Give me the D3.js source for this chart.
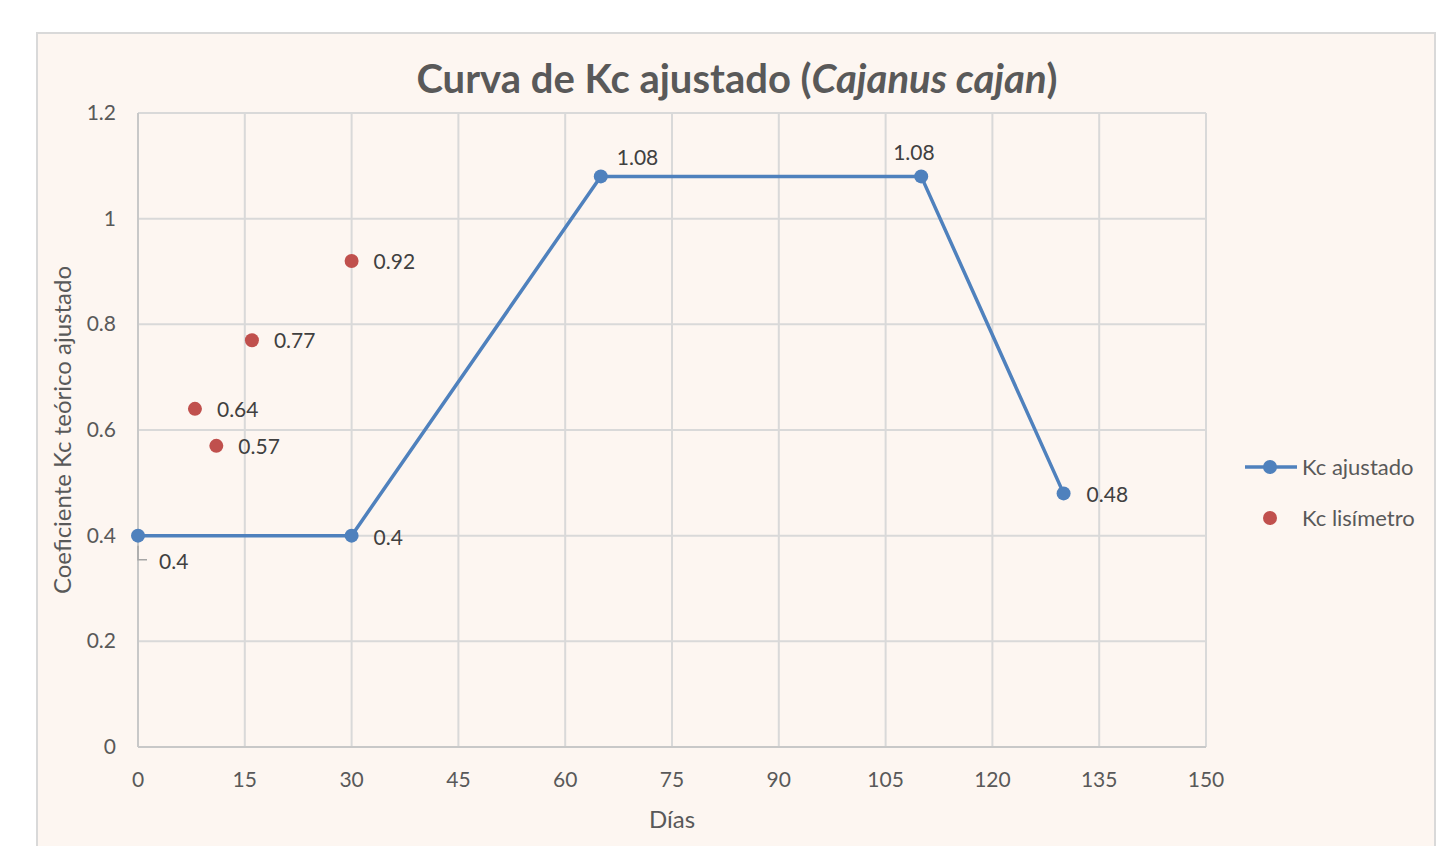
<html>
<head>
  <meta charset="utf-8">
  <title>Curva de Kc</title>
  <script src="https://d3js.org/d3.v7.min.js"></script>
  <style>
    body { margin: 0; background: #fff; }
    text { font-family: Lato, "Open Sans", sans-serif; }
  </style>
</head>
<body>
<script>
  // data
  var diasAjustado = [0, 30, 65, 110, 130];
  var kcAjustado = [0.4, 0.4, 1.08, 1.08, 0.48];
  var diasLisimetro = [8, 11, 16, 30];
  var kcLisimetro = [0.64, 0.57, 0.77, 0.92];
  var xTicks = [0, 15, 30, 45, 60, 75, 90, 105, 120, 135, 150];
  var yTicks = [0, 0.2, 0.4, 0.6, 0.8, 1, 1.2];

  var width = 1449, height = 846;
  var blue = '#4f81bd', red = '#c0504d';

  var svg = d3.select('body').append('svg')
      .attr('width', width).attr('height', height);

  // chart frame
  svg.append('rect')
     .attr('x', 37).attr('y', 33).attr('width', 1398).attr('height', 840)
     .attr('fill', '#fdf6f1').attr('stroke', '#d9d9d9').attr('stroke-width', 2);

  var x = d3.scaleLinear().domain([0, 150]).range([138, 1206]);
  var y = d3.scaleLinear().domain([0, 1.2]).range([747, 113]);

  // grid
  var grid = svg.append('g');
  grid.selectAll('.vg').data(xTicks).enter().append('line')
      .attr('x1', d => x(d)).attr('x2', d => x(d))
      .attr('y1', y(0)).attr('y2', y(1.2))
      .attr('stroke', '#d9d9d9').attr('stroke-width', 2);
  grid.selectAll('.hg').data(yTicks).enter().append('line')
      .attr('x1', x(0)).attr('x2', x(150))
      .attr('y1', d => y(d)).attr('y2', d => y(d))
      .attr('stroke', '#d9d9d9').attr('stroke-width', 2);

  // axis lines
  svg.append('line').attr('x1', x(0)).attr('x2', x(150)).attr('y1', y(0)).attr('y2', y(0))
     .attr('stroke', '#c8c8c8').attr('stroke-width', 2);
  svg.append('line').attr('x1', x(0)).attr('x2', x(0)).attr('y1', y(0)).attr('y2', y(1.2))
     .attr('stroke', '#c8c8c8').attr('stroke-width', 2);

  // tick labels
  svg.selectAll('.xt').data(xTicks).enter().append('text')
     .attr('x', d => x(d)).attr('y', 787)
     .attr('text-anchor', 'middle').attr('font-size', 21).attr('fill', '#595959')
     .text(d => d);
  svg.selectAll('.yt').data(yTicks).enter().append('text')
     .attr('x', 116).attr('y', d => y(d) + 7)
     .attr('text-anchor', 'end').attr('font-size', 21).attr('fill', '#595959')
     .text(d => d);

  // titles
  var title = svg.append('text').attr('x', 737).attr('y', 93)
     .attr('text-anchor', 'middle').attr('font-size', 40).attr('font-weight', 'bold')
     .attr('fill', '#595959');
  title.append('tspan').text('Curva de Kc ajustado (');
  title.append('tspan').attr('font-style', 'italic').text('Cajanus cajan');
  title.append('tspan').text(')');

  svg.append('text').attr('x', 672).attr('y', 828)
     .attr('text-anchor', 'middle').attr('font-size', 24).attr('fill', '#595959')
     .text('Días');
  svg.append('text')
     .attr('transform', 'translate(71,430) rotate(-90)')
     .attr('text-anchor', 'middle').attr('font-size', 24).attr('fill', '#595959')
     .text('Coeficiente Kc teórico ajustado');

  // series Kc ajustado
  var ajustado = diasAjustado.map((d, i) => ({x: d, y: kcAjustado[i]}));
  var line = d3.line().x(d => x(d.x)).y(d => y(d.y));
  svg.append('path').datum(ajustado)
     .attr('d', line).attr('fill', 'none')
     .attr('stroke', blue).attr('stroke-width', 3.5).attr('stroke-linejoin', 'round');
  svg.selectAll('.pa').data(ajustado).enter().append('circle')
     .attr('cx', d => x(d.x)).attr('cy', d => y(d.y)).attr('r', 7)
     .attr('fill', blue);

  // series Kc lisimetro
  var lisimetro = diasLisimetro.map((d, i) => ({x: d, y: kcLisimetro[i]}));
  svg.selectAll('.pl').data(lisimetro).enter().append('circle')
     .attr('cx', d => x(d.x)).attr('cy', d => y(d.y)).attr('r', 7)
     .attr('fill', red);

  // data labels
  var offA = [[21, 33], [22, 9], [16, -11], [-28, -16], [23, 9]];
  svg.selectAll('.la').data(ajustado).enter().append('text')
     .attr('x', (d, i) => x(d.x) + offA[i][0]).attr('y', (d, i) => y(d.y) + offA[i][1])
     .attr('font-size', 21).attr('fill', '#404040')
     .text(d => d.y);
  // leader line for first label
  svg.append('path')
     .attr('d', 'M' + x(0) + ',' + (y(0.4) + 10) + 'V' + (y(0.4) + 24) + 'h9')
     .attr('fill', 'none').attr('stroke', '#a6a6a6').attr('stroke-width', 1.5);
  svg.selectAll('.ll').data(lisimetro).enter().append('text')
     .attr('x', d => x(d.x) + 22).attr('y', d => y(d.y) + 8)
     .attr('font-size', 21).attr('fill', '#404040')
     .text(d => d.y);

  // legend
  var lg = svg.append('g');
  lg.append('line').attr('x1', 1245).attr('x2', 1297).attr('y1', 467).attr('y2', 467)
    .attr('stroke', blue).attr('stroke-width', 3.5);
  lg.append('circle').attr('cx', 1270).attr('cy', 467).attr('r', 7).attr('fill', blue);
  lg.append('text').attr('x', 1302).attr('y', 475).attr('font-size', 22).attr('fill', '#595959')
    .text('Kc ajustado');
  lg.append('circle').attr('cx', 1270).attr('cy', 518).attr('r', 7).attr('fill', red);
  lg.append('text').attr('x', 1302).attr('y', 526).attr('font-size', 22).attr('fill', '#595959')
    .text('Kc lisímetro');
</script>
</body>
</html>
